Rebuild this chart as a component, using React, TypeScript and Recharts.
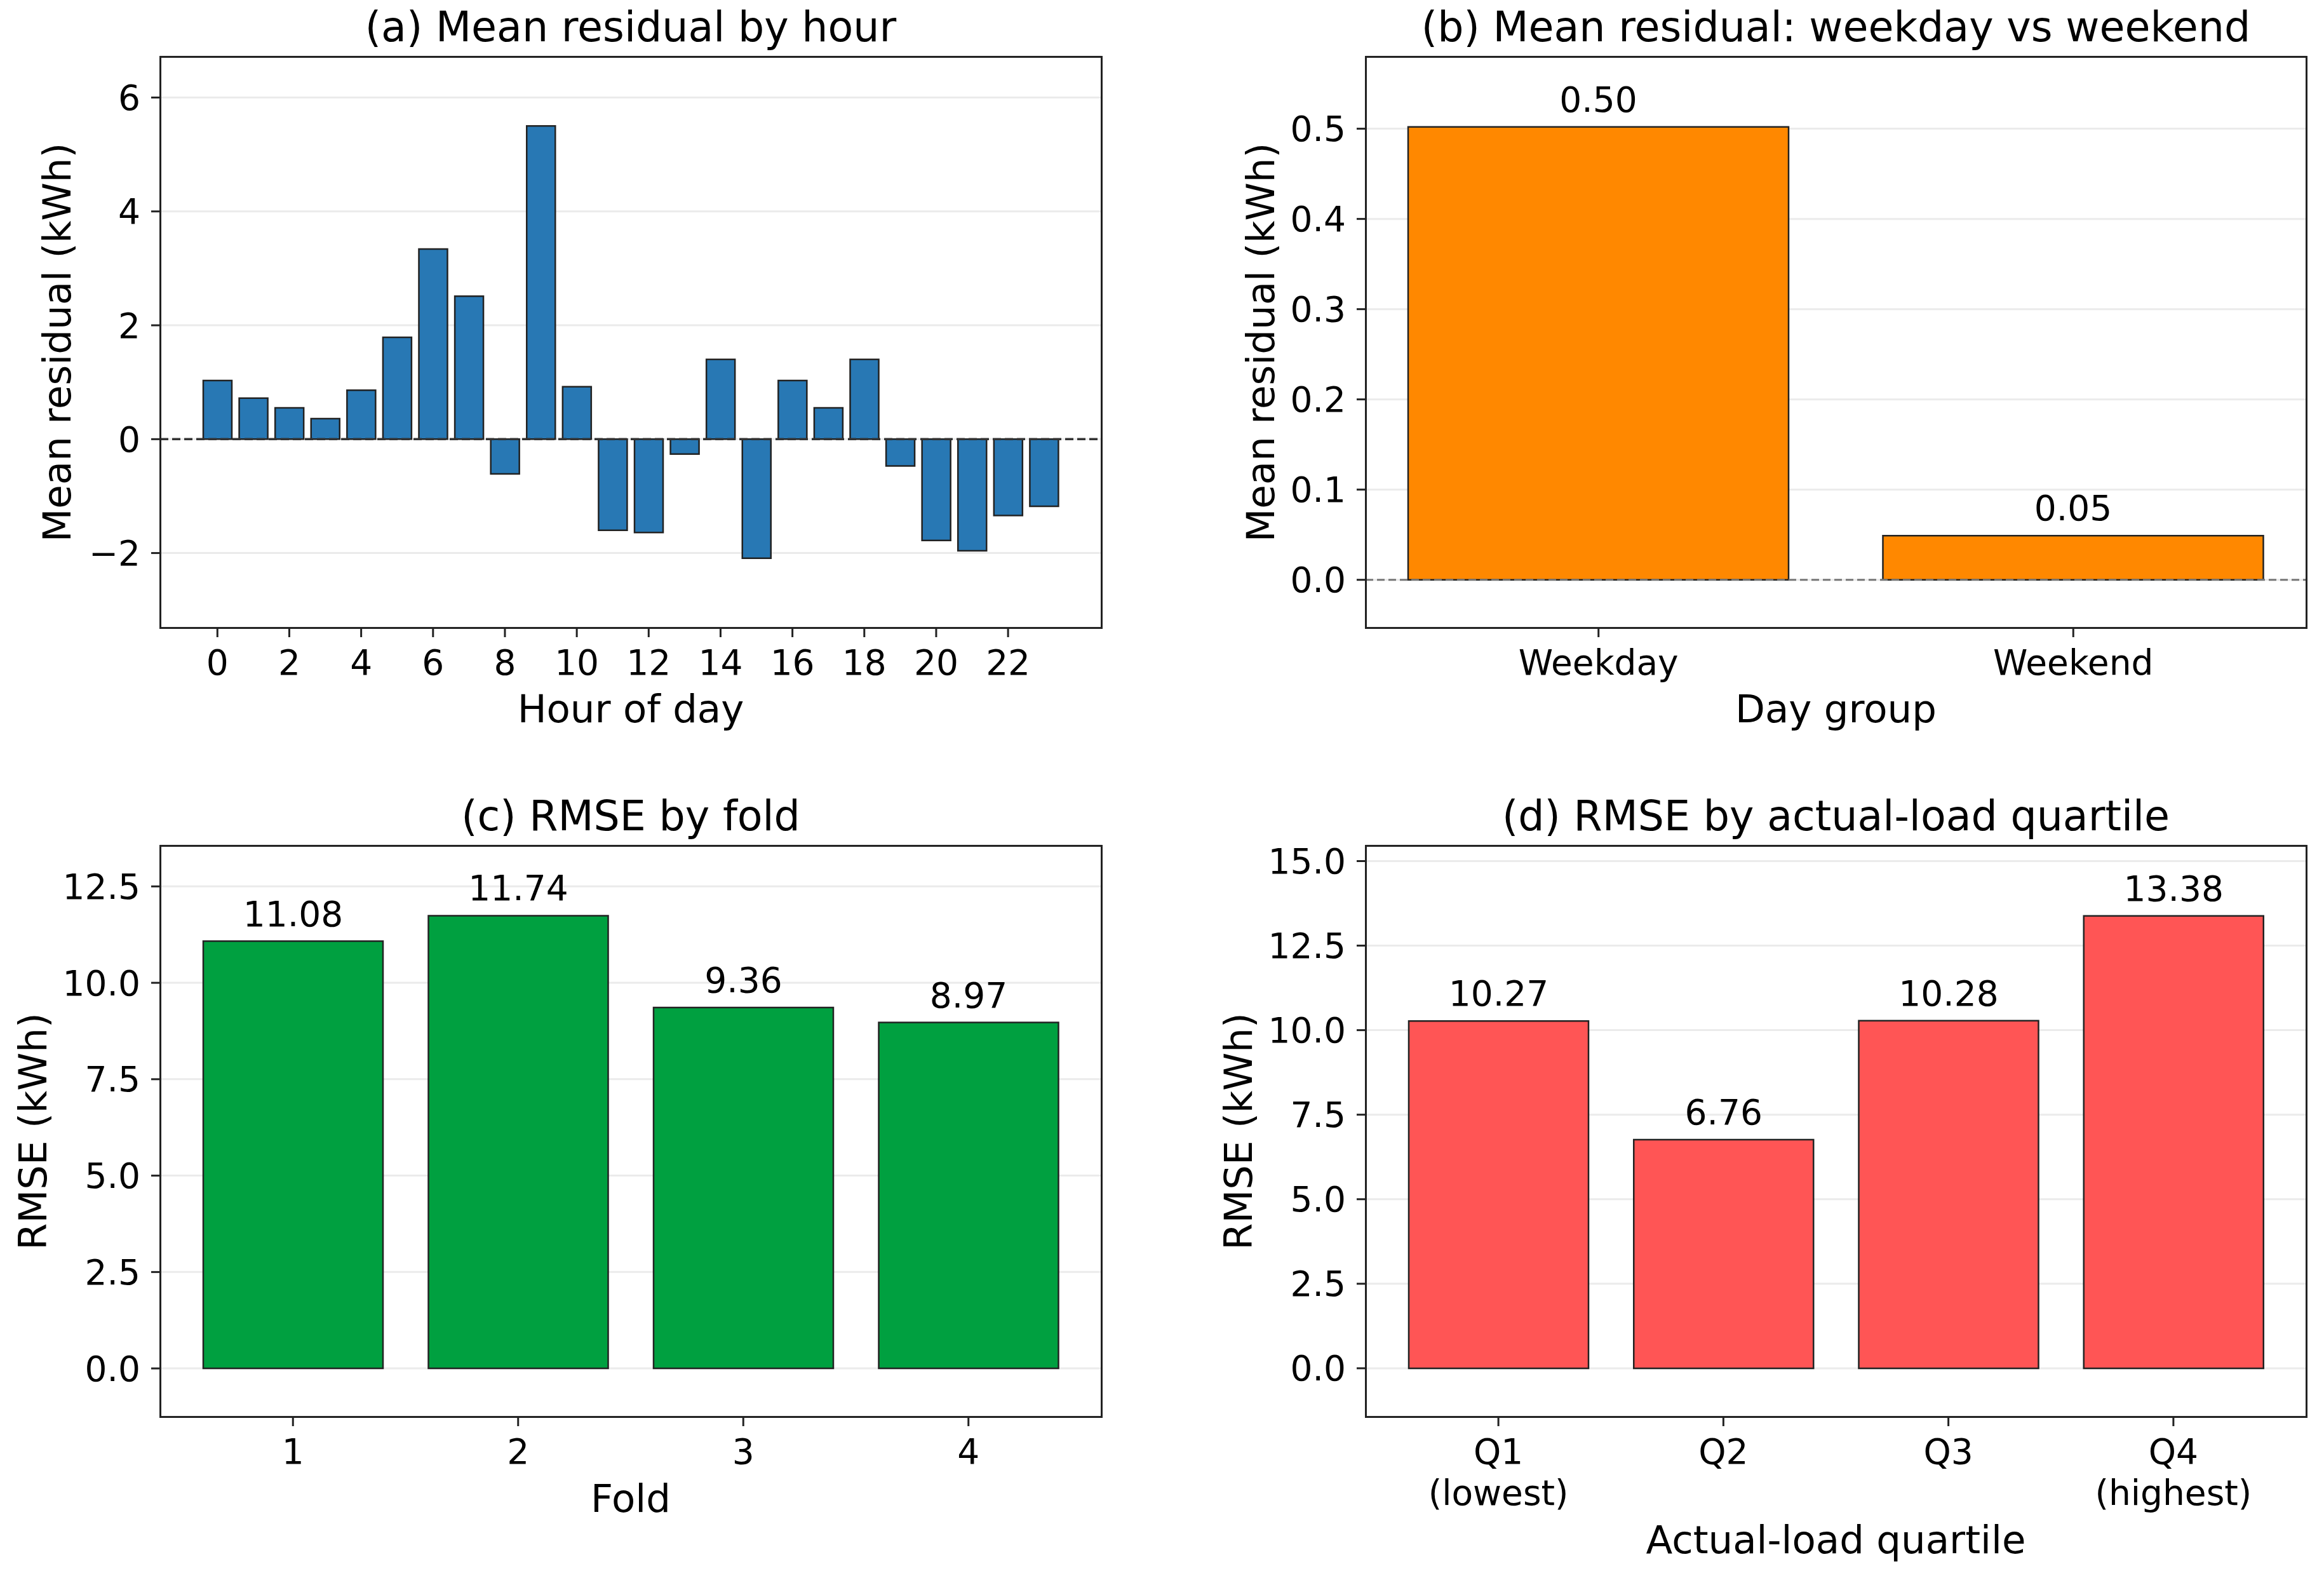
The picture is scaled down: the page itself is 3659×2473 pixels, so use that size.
import React from 'react';
import { BarChart, Bar, XAxis, YAxis, CartesianGrid, ReferenceLine, LabelList } from 'recharts';

// ---------- data ----------
const hours = [0, 1, 2, 3, 4, 5, 6, 7, 8, 9, 10, 11, 12, 13, 14, 15, 16, 17, 18, 19, 20, 21, 22, 23];
const hourResidual = [1.03, 0.72, 0.55, 0.36, 0.86, 1.79, 3.34, 2.51, -0.61, 5.5, 0.92, -1.6, -1.64, -0.26, 1.4, -2.09, 1.03, 0.55, 1.4, -0.47, -1.78, -1.96, -1.34, -1.18];

const dayGroups = ['Weekday', 'Weekend'];
const dayResidual = [0.502, 0.049];

const folds = ['1', '2', '3', '4'];
const foldRmse = [11.08, 11.74, 9.36, 8.97];

const quartiles = ['Q1\n(lowest)', 'Q2', 'Q3', 'Q4\n(highest)'];
const quartileRmse = [10.27, 6.76, 10.28, 13.38];

const ticksA = [-2, 0, 2, 4, 6];
const ticksB = [0, 0.1, 0.2, 0.3, 0.4, 0.5];
const ticksC = [0, 2.5, 5, 7.5, 10, 12.5];
const ticksD = [0, 2.5, 5, 7.5, 10, 12.5, 15];

// ---------- styling ----------
const FONT = '"DejaVu Sans", Verdana, sans-serif';
const TICK_FS = 55;
const LABEL_FS = 61;
const TITLE_FS = 65;
const EDGE = '#222';

const dataA = hours.map((h, i) => ({ name: String(h), v: hourResidual[i] }));
const dataB = dayGroups.map((g, i) => ({ name: g, v: dayResidual[i] }));
const dataC = folds.map((f, i) => ({ name: f, v: foldRmse[i] }));
const dataD = quartiles.map((q, i) => ({ name: q, v: quartileRmse[i] }));

const fmtMinus = (v: number) => (v < 0 ? '\u2212' + Math.abs(v) : String(v));
const fmt1 = (v: number) => Number(v).toFixed(1);
const fmt2 = (v: any) => Number(v).toFixed(2);

const MultiLineTick = (props: any) => {
  const { x, y, payload } = props;
  const lines = String(payload.value).split('\n');
  return (
    <text x={x} y={y} textAnchor="middle" fontSize={TICK_FS} fontFamily={FONT} fill="#000">
      {lines.map((l, i) => (
        <tspan key={i} x={x} dy={i === 0 ? '0.71em' : 65}>
          {l}
        </tspan>
      ))}
    </text>
  );
};

type PanelProps = {
  px: number;
  py: number;
  pw: number;
  ph: number;
  data: { name: string; v: number }[];
  color: string;
  domain: [number, number];
  ticks: number[];
  yFmt: (v: number) => string;
  barSize: number;
  xPad: number;
  interval: number;
  zeroLine?: { stroke: string; width: number; dash: string };
  values?: boolean;
  multiTick?: boolean;
  title: string;
  xLabel: string;
  yLabel: string;
  xLabelDy: number;
  yLabelDx: number;
};

const LEFT = 260;
const TOP = 100;
const RIGHT = 20;
const BOTTOM = 240;

const Panel = (p: PanelProps) => {
  const w = LEFT + p.pw + RIGHT;
  const h = TOP + p.ph + BOTTOM;
  const tickStyle = { fontSize: TICK_FS, fill: '#000', fontFamily: FONT };
  return (
    <>
      <div style={{ position: 'absolute', left: p.px - LEFT, top: p.py - TOP }}>
        <BarChart width={w} height={h} data={p.data} margin={{ top: TOP, right: RIGHT, bottom: 0, left: 0 }}>
          <CartesianGrid vertical={false} stroke="#ebebeb" strokeWidth={3} />
          <XAxis
            dataKey="name"
            type="category"
            height={BOTTOM}
            axisLine={false}
            tickLine={{ stroke: EDGE, strokeWidth: 3 }}
            tickSize={15}
            tickMargin={20}
            interval={p.interval}
            padding={{ left: p.xPad, right: p.xPad }}
            tick={p.multiTick ? <MultiLineTick /> : tickStyle}
          />
          <YAxis
            type="number"
            width={LEFT}
            domain={p.domain}
            ticks={p.ticks}
            allowDataOverflow
            axisLine={false}
            tickLine={{ stroke: EDGE, strokeWidth: 3 }}
            tickSize={14}
            tickMargin={17}
            tickFormatter={p.yFmt}
            tick={tickStyle}
          />
          <Bar dataKey="v" fill={p.color} stroke={EDGE} strokeWidth={2.5} barSize={p.barSize} isAnimationActive={false}>
            {p.values ? (
              <LabelList
                dataKey="v"
                position="top"
                offset={24}
                formatter={fmt2}
                style={{ fontSize: TICK_FS, fill: '#000', fontFamily: FONT }}
              />
            ) : null}
          </Bar>
          {p.zeroLine ? (
            <ReferenceLine
              y={0}
              stroke={p.zeroLine.stroke}
              strokeWidth={p.zeroLine.width}
              strokeDasharray={p.zeroLine.dash}
              ifOverflow="extendDomain"
            />
          ) : null}
        </BarChart>
      </div>
      {/* frame */}
      <div
        style={{
          position: 'absolute',
          left: p.px - 1.5,
          top: p.py - 1.5,
          width: p.pw + 3,
          height: p.ph + 3,
          border: `3px solid ${EDGE}`,
          boxSizing: 'border-box',
          pointerEvents: 'none',
        }}
      />
      {/* title */}
      <div
        style={{
          position: 'absolute',
          left: p.px + p.pw / 2,
          top: p.py - 47,
          transform: 'translate(-50%, -50%)',
          whiteSpace: 'nowrap',
          fontFamily: FONT,
          fontSize: TITLE_FS,
          lineHeight: 1,
          color: '#000',
        }}
      >
        {p.title}
      </div>
      {/* x label */}
      <div
        style={{
          position: 'absolute',
          left: p.px + p.pw / 2,
          top: p.py + p.ph + p.xLabelDy,
          transform: 'translate(-50%, -50%)',
          whiteSpace: 'nowrap',
          fontFamily: FONT,
          fontSize: LABEL_FS,
          lineHeight: 1,
          color: '#000',
        }}
      >
        {p.xLabel}
      </div>
      {/* y label */}
      <div
        style={{
          position: 'absolute',
          left: p.px - p.yLabelDx,
          top: p.py + p.ph / 2,
          transform: 'translate(-50%, -50%) rotate(-90deg)',
          whiteSpace: 'nowrap',
          fontFamily: FONT,
          fontSize: LABEL_FS,
          lineHeight: 1,
          color: '#000',
        }}
      >
        {p.yLabel}
      </div>
    </>
  );
};

export default function App() {
  return (
    <div
      style={{
        position: 'absolute',
        left: 0,
        top: 0,
        width: 3659,
        height: 2473,
        background: '#fff',
        overflow: 'hidden',
      }}
    >
      <Panel
        px={252}
        py={89}
        pw={1482}
        ph={899}
        data={dataA}
        color="#2878b4"
        domain={[-3.31, 6.72]}
        ticks={ticksA}
        yFmt={fmtMinus}
        barSize={45}
        xPad={62}
        interval={1}
        zeroLine={{ stroke: '#333', width: 3.6, dash: '13 6' }}
        title="(a) Mean residual by hour"
        xLabel="Hour of day"
        yLabel="Mean residual (kWh)"
        xLabelDy={127}
        yLabelDx={163}
      />
      <Panel
        px={2150}
        py={89}
        pw={1481}
        ph={899}
        data={dataB}
        color="#ff8800"
        domain={[-0.053, 0.58]}
        ticks={ticksB}
        yFmt={fmt1}
        barSize={599}
        xPad={-7}
        interval={0}
        zeroLine={{ stroke: '#777', width: 3, dash: '12 6' }}
        values
        title="(b) Mean residual: weekday vs weekend"
        xLabel="Day group"
        yLabel="Mean residual (kWh)"
        xLabelDy={127}
        yLabelDx={166}
      />
      <Panel
        px={252}
        py={1331}
        pw={1482}
        ph={899}
        data={dataC}
        color="#00a040"
        domain={[-1.25, 13.56]}
        ticks={ticksC}
        yFmt={fmt1}
        barSize={283}
        xPad={32}
        interval={0}
        values
        title="(c) RMSE by fold"
        xLabel="Fold"
        yLabel="RMSE (kWh)"
        xLabelDy={128}
        yLabelDx={201}
      />
      <Panel
        px={2150}
        py={1331}
        pw={1481}
        ph={899}
        data={dataD}
        color="#ff5555"
        domain={[-1.43, 15.46]}
        ticks={ticksD}
        yFmt={fmt1}
        barSize={283}
        xPad={32}
        interval={0}
        values
        multiTick
        title="(d) RMSE by actual-load quartile"
        xLabel="Actual-load quartile"
        yLabel="RMSE (kWh)"
        xLabelDy={193}
        yLabelDx={201}
      />
    </div>
  );
}
